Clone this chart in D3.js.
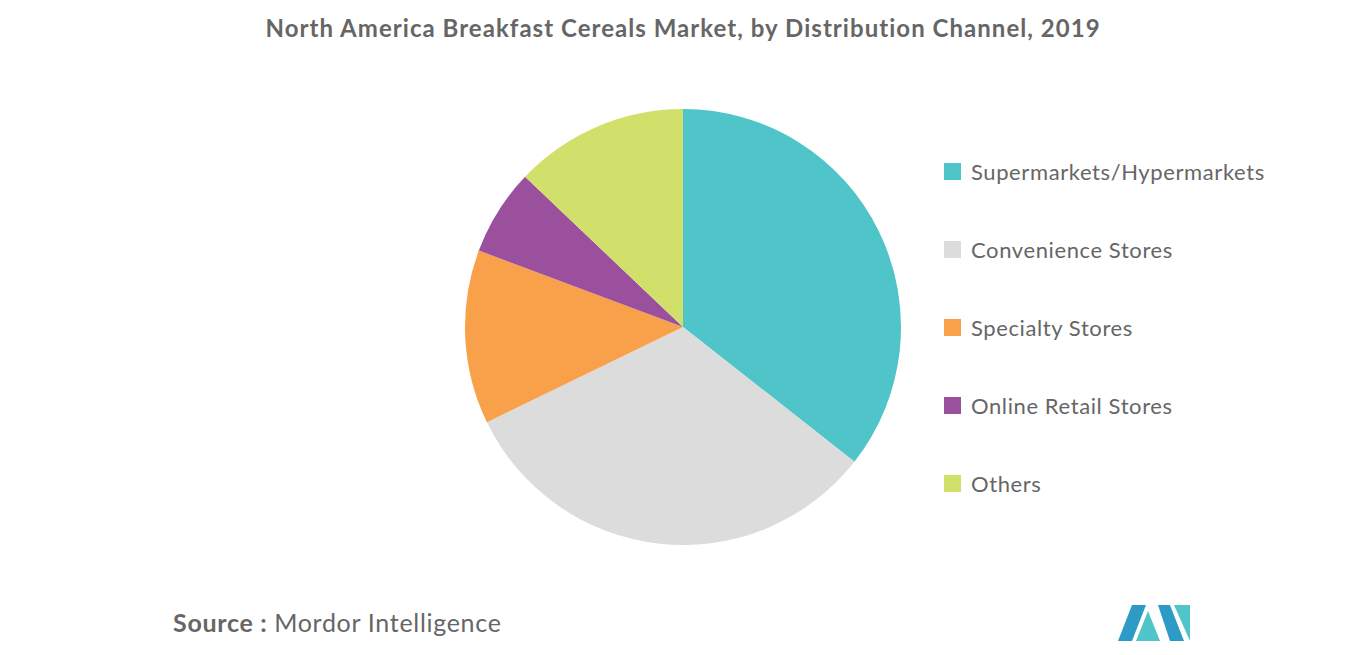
<!DOCTYPE html>
<html><head><meta charset="utf-8">
<script src="https://cdn.jsdelivr.net/npm/d3@7"></script>
<style>body{margin:0;background:#fff;font-family:Lato,"Open Sans",sans-serif;}</style>
</head><body><svg id="c" width="1366" height="655"></svg>
<script>
const categories=["Supermarkets/Hypermarkets","Convenience Stores","Specialty Stores","Online Retail Stores","Others"];
const values=[35.6,32.2,12.9,6.4,12.9];
const colors=["#4FC4C9","#DCDCDC","#F9A04B","#9B509E","#D1E06B"];
const svg=d3.select("#c");
svg.append("text").attr("x",683).attr("y",37).attr("text-anchor","middle")
 .attr("font-size",24).attr("letter-spacing","0.9px").attr("font-weight",700).attr("fill","#666")
 .attr("textLength",835).attr("lengthAdjust","spacing")
 .text("North America Breakfast Cereals Market, by Distribution Channel, 2019");
const pie=d3.pie().sort(null)(values);
const arc=d3.arc().innerRadius(0).outerRadius(218);
const g=svg.append("g").attr("transform","translate(683,327)");
g.selectAll("path").data(pie).join("path").attr("d",arc).attr("fill",(d,i)=>colors[i]);
const lg=svg.append("g");
categories.forEach((c,i)=>{
 const y=172+i*78;
 lg.append("rect").attr("x",944).attr("y",y-9).attr("width",17).attr("height",17).attr("fill",colors[i]);
 lg.append("text").attr("x",971).attr("y",y+8).attr("font-size",22).attr("letter-spacing","0.6px").attr("fill","#666").text(c);
});
const s=svg.append("text").attr("x",173).attr("y",632).attr("font-size",25).attr("letter-spacing","0.7px").attr("fill","#666");
s.append("tspan").attr("font-weight",700).text("Source : ");
s.append("tspan").text("Mordor Intelligence");
const L=svg.append("g").attr("transform","translate(1118,605)");
L.append("path").attr("d","M0,36 L14,0 L28,0 L14,36 Z").attr("fill","#2E9BC6");
L.append("path").attr("d","M18,36 L30,6 L42,36 Z").attr("fill","#4FC4C9");
L.append("path").attr("d","M40,0 L52,0 L66,36 L52,36 Z").attr("fill","#2E9BC6");
L.append("path").attr("d","M56,0 L72,0 L72,36 Z").attr("fill","#4FC4C9");
</script></body></html>
